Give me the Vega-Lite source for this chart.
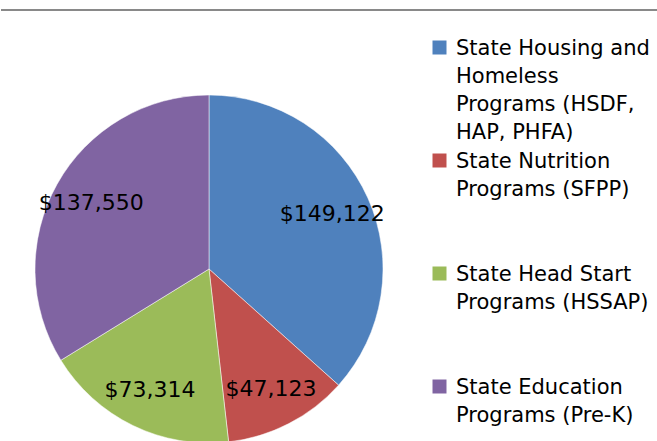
{
  "$schema": "https://vega.github.io/schema/vega-lite/v6.json",
  "padding": 0,
  "spacing": 83,
  "config": {
    "view": {"stroke": null},
    "style": {"guide-label": {"lineHeight": 28, "dy": -10}}
  },
  "vconcat": [
    {
      "width": 657,
      "height": 10,
      "data": {"values": [{"line": "top"}]},
      "mark": {"type": "rule", "color": "#898989", "strokeWidth": 2},
      "encoding": {"y": {"datum": 0, "type": "quantitative", "scale": {"domain": [0, 1]}, "axis": null}}
    },
    {
      "width": 416,
      "height": 348,
      "data": {"values": [
        {"program": "State Housing and Homeless Programs (HSDF, HAP, PHFA)", "amount": 149122, "idx": 1},
        {"program": "State Nutrition Programs (SFPP)", "amount": 47123, "idx": 2},
        {"program": "State Head Start Programs (HSSAP)", "amount": 73314, "idx": 3},
        {"program": "State Education Programs (Pre-K)", "amount": 137550, "idx": 4}
      ]},
      "encoding": {
        "theta": {"field": "amount", "type": "quantitative", "stack": true},
        "order": {"field": "idx", "type": "quantitative"}
      },
      "layer": [
        {
          "mark": {"type": "arc", "radius": 174, "stroke": "#ffffff", "strokeWidth": 0.5},
          "encoding": {
            "color": {
              "field": "program",
              "type": "nominal",
              "scale": {
                "domain": ["State Housing and Homeless Programs (HSDF, HAP, PHFA)", "State Nutrition Programs (SFPP)", "State Head Start Programs (HSSAP)", "State Education Programs (Pre-K)"],
                "range": ["#4F81BD", "#C0504D", "#9BBB59", "#8064A2"]
              },
              "legend": {
                "orient": "none",
                "legendX": 428,
                "legendY": 37,
                "title": null,
                "padding": 0,
                "symbolType": "square",
                "symbolSize": 196,
                "symbolStrokeWidth": 0,
                "symbolOpacity": 1,
                "labelFont": "DejaVu Sans",
                "labelFontSize": 21,
                "labelColor": "#000000",
                "labelLimit": 400,
                "labelOffset": 6,
                "labelBaseline": "top",
                "gridAlign": "all",
                "rowPadding": 7,
                "labelExpr": "datum.label == 'State Housing and Homeless Programs (HSDF, HAP, PHFA)' ? ['State Housing and', 'Homeless', 'Programs (HSDF,', 'HAP, PHFA)'] : datum.label == 'State Nutrition Programs (SFPP)' ? ['State Nutrition', 'Programs (SFPP)'] : datum.label == 'State Head Start Programs (HSSAP)' ? ['State Head Start', 'Programs (HSSAP)'] : ['State Education', 'Programs (Pre-K)']"
              }
            }
          }
        },
        {
          "mark": {"type": "text", "radius": 135, "font": "DejaVu Sans", "fontSize": 22, "color": "#000000"},
          "encoding": {"text": {"field": "amount", "type": "quantitative", "format": "$,.0f"}}
        }
      ]
    }
  ]
}
